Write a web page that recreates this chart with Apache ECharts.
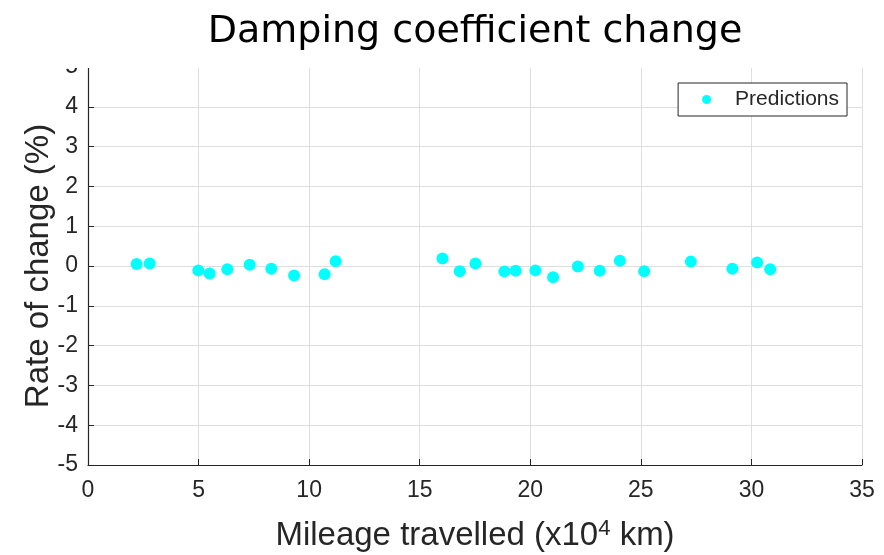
<!DOCTYPE html>
<html>
<head>
    <meta charset="utf-8">
    <title>Damping coefficient change</title>
    <style>
        html, body { margin: 0; padding: 0; background: #fff; }
        #main { width: 884px; height: 555px; }
    </style>
</head>
<body>
    <div id="main"></div>
    <script src="https://cdn.jsdelivr.net/npm/echarts@6/dist/echarts.min.js"></script>
    <script>
        // mileage (x10^4 km) and rate of change (%)
        var mileage = [2.20, 2.79, 4.99, 5.50, 6.30, 7.31, 8.29, 9.32, 10.70, 11.20,
                       16.03, 16.81, 17.52, 18.83, 19.34, 20.23, 21.03, 22.15, 23.14,
                       24.05, 25.15, 27.26, 29.14, 30.26, 30.85];
        var rate = [0.05, 0.06, -0.11, -0.19, -0.08, 0.03, -0.07, -0.24, -0.21, 0.12,
                    0.19, -0.13, 0.06, -0.14, -0.12, -0.11, -0.28, -0.01, -0.12,
                    0.13, -0.13, 0.11, -0.07, 0.09, -0.08];

        var points = mileage.map(function (x, i) { return [x, rate[i]]; });

        var chart = echarts.init(document.getElementById('main'));

        var axisFont = { fontFamily: 'Liberation Sans', fontSize: 23, color: '#262626' };

        var option = {
            animation: false,
            grid: { left: 88, right: 22, top: 67, bottom: 90, outerBoundsMode: 'none' },
            legend: {
                right: 37, top: 83,
                orient: 'vertical',
                backgroundColor: '#fff',
                borderColor: '#262626', borderWidth: 1, borderRadius: 0,
                padding: [6, 8, 6, 24],
                itemWidth: 9, itemHeight: 9,
                textStyle: { fontFamily: 'Liberation Sans', fontSize: 21, color: '#262626', padding: [0, 0, 0, 19] },
                data: [{ name: 'Predictions', icon: 'circle' }]
            },
            xAxis: {
                type: 'value', min: 0, max: 35, interval: 5,
                name: 'Mileage travelled (x10{sup|4} km)',
                nameLocation: 'middle', nameGap: 53,
                nameMoveOverlap: false,
                nameTextStyle: {
                    fontFamily: 'Liberation Sans', fontSize: 33, color: '#262626',
                    rich: { sup: { fontFamily: 'Liberation Sans', fontSize: 22, color: '#262626', verticalAlign: 'top', padding: [0, 0, 14, 0] } }
                },
                axisLine: { onZero: false, lineStyle: { color: '#262626', width: 1.2 } },
                axisTick: { inside: true, length: 6, lineStyle: { color: '#262626' } },
                axisLabel: Object.assign({ margin: 14 }, axisFont),
                splitLine: { show: true, lineStyle: { color: '#dedede' } }
            },
            yAxis: {
                type: 'value', min: -5, max: 5, interval: 1,
                name: 'Rate of change (%)',
                nameLocation: 'middle', nameGap: 33,
                nameMoveOverlap: false,
                nameTextStyle: { fontFamily: 'Liberation Sans', fontSize: 33, color: '#262626' },
                axisLine: { onZero: false, lineStyle: { color: '#262626', width: 1.2 } },
                axisTick: { inside: true, length: 6, lineStyle: { color: '#262626' } },
                axisLabel: Object.assign({ margin: 10 }, axisFont),
                splitLine: { show: true, lineStyle: { color: '#dedede' } }
            },
            series: [{
                name: 'Predictions',
                type: 'scatter',
                symbol: 'circle',
                symbolSize: 12,
                itemStyle: { color: '#00ffff', opacity: 1 },
                data: points
            }],
            graphic: [
                // cover strip above the plot, as in the cropped original
                { type: 'rect', left: 0, top: 0, z: 100, shape: { width: 884, height: 68 }, style: { fill: '#fff' } },
                {
                    type: 'text', x: 475, y: 13, z: 101,
                    style: { text: 'Damping coefficient change', font: '38px "DejaVu Sans"', fill: '#000', align: 'center', verticalAlign: 'top' }
                }
            ]
        };

        chart.setOption(option);
    </script>
</body>
</html>
